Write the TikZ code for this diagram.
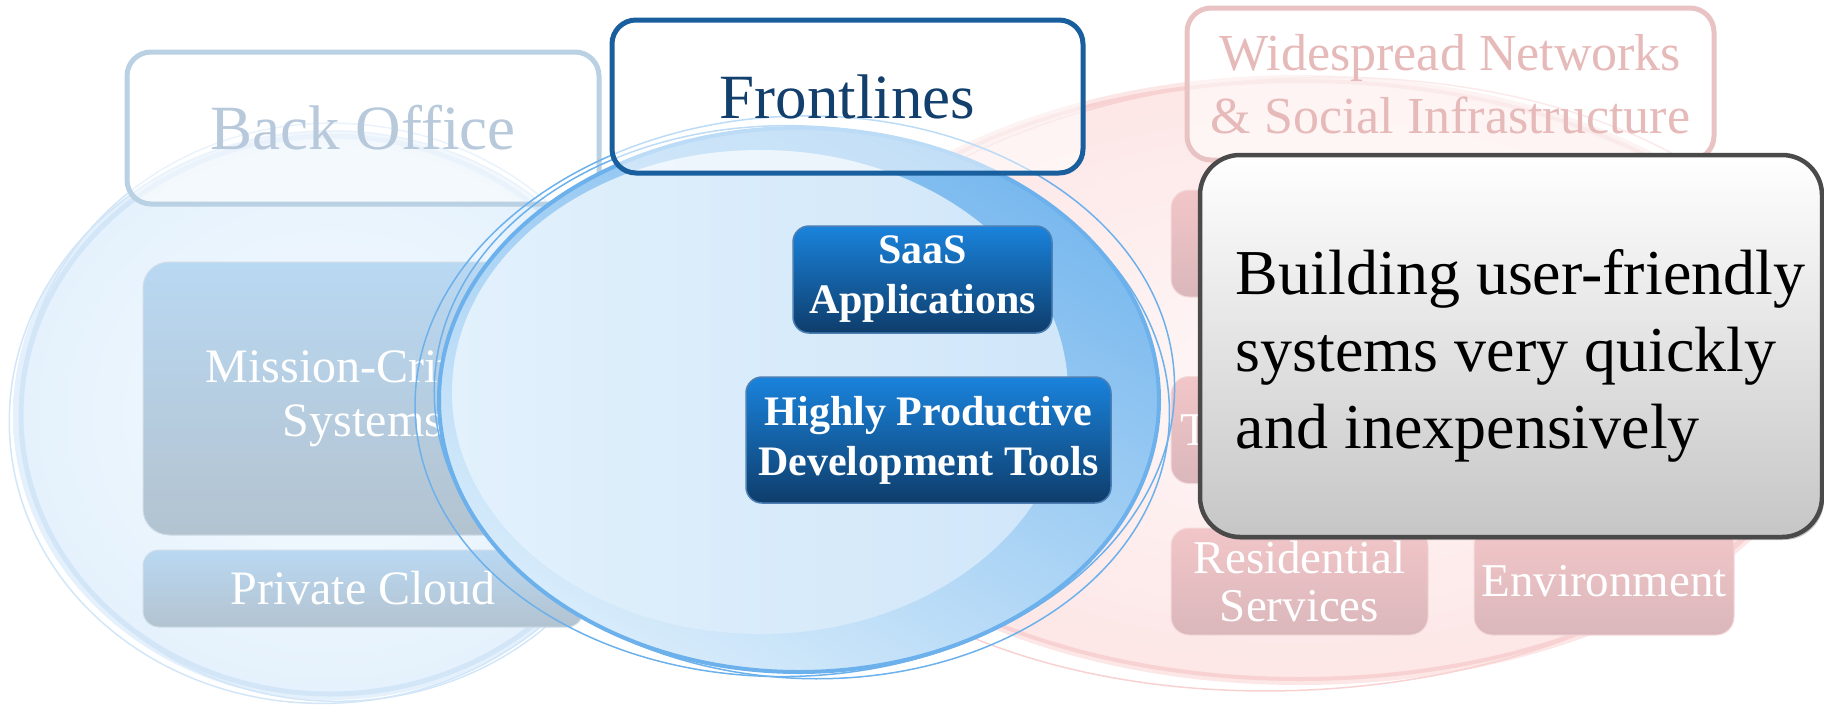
\documentclass[tikz,border=0pt]{standalone}
\usepackage{fontspec}
\setmainfont{Liberation Serif}
\usepackage{tikz}
\usetikzlibrary{shadows}
\definecolor{backin}{HTML}{F7FBFF}
\definecolor{backout}{HTML}{E4F1FC}
\definecolor{backring}{HTML}{D2E6F8}
\definecolor{backedge}{HTML}{BAD0E3}
\definecolor{backtext}{HTML}{B7C9DA}
\definecolor{systop}{HTML}{B9D8F2}
\definecolor{sysbot}{HTML}{B3C3D0}
\definecolor{sysedge}{HTML}{CFDDE9}
\definecolor{netin}{HTML}{FFF8F8}
\definecolor{netout}{HTML}{FDE6E6}
\definecolor{netring}{HTML}{F8D2D2}
\definecolor{netedge}{HTML}{E9C3C3}
\definecolor{nettext}{HTML}{E7BABA}
\definecolor{pinktop}{HTML}{F2C6C8}
\definecolor{pinkbot}{HTML}{DAB7BB}
\definecolor{pinkedge}{HTML}{F4D9DA}
\definecolor{frontdark}{HTML}{78B8EE}
\definecolor{frontmid}{HTML}{C4E3FA}
\definecolor{frontpale}{HTML}{D8ECFB}
\definecolor{frontinl}{HTML}{E2F1FC}
\definecolor{frontinr}{HTML}{D0E6F9}
\definecolor{frontring}{HTML}{6CB1EC}
\definecolor{frontedge}{HTML}{195F9E}
\definecolor{fronttext}{HTML}{123F6C}
\definecolor{tooltop}{HTML}{1A83DC}
\definecolor{toolbot}{HTML}{0E3D6B}
\definecolor{tooledge}{HTML}{4C80B4}
\definecolor{pitchedge}{HTML}{4A4A4A}
\definecolor{pitchlow}{HTML}{C6C6C6}
\tikzstyle{headbox} = [rounded corners=24pt, line width=5pt, fill=white, fill opacity=0.55, text opacity=1, inner sep=0pt, align=center]
\tikzstyle{sysbox} = [draw=sysedge, line width=1pt, top color=systop, bottom color=sysbot, text=white, inner sep=0pt, align=center, font=\fontsize{48}{54}\selectfont]
\tikzstyle{pinkbox} = [draw=pinkedge, line width=1pt, rounded corners=18pt, top color=pinktop, bottom color=pinkbot, text=white, inner sep=0pt, align=center, minimum width=257pt, minimum height=107pt, font=\fontsize{47}{48}\selectfont]
\tikzstyle{toolbox} = [draw=tooledge, line width=1.5pt, rounded corners=16pt, top color=tooltop, bottom color=toolbot, text=white, inner sep=0pt, align=center, font=\fontsize{42}{50}\selectfont\bfseries]
\tikzstyle{ring} = [line width=1.5pt]

\begin{document}
\begin{tikzpicture}[x=1pt,y=-1pt]
	\useasboundingbox (0,0) rectangle (1824,705);
	\shade[inner color=backin, outer color=backout] (330,415) ellipse [x radius=317, y radius=285];
	\draw[backring, line width=5pt] (330,415) ellipse [x radius=309, y radius=279];
	\draw[backring, ring, rotate around={4:(330,415)}] (327,417) ellipse [x radius=318, y radius=286];
	\draw[backring, ring, rotate around={-3:(330,415)}] (334,412) ellipse [x radius=313, y radius=289];
	\shade[inner color=netin, outer color=netout] (1300,380) ellipse [x radius=530, y radius=305];
	\draw[netring, line width=4pt] (1300,380) ellipse [x radius=524, y radius=299];
	\draw[netring, ring, rotate around={3:(1300,380)}] (1298,384) ellipse [x radius=532, y radius=306];
	\node[headbox, draw=backedge, text=backtext, minimum width=472pt, minimum height=152pt, font=\fontsize{63}{72}\selectfont] (back) at (363,128) {Back Office};
	\node[sysbox, rounded corners=26pt, minimum width=440pt, minimum height=273pt] (mission) at (363,398.5) {Mission-Critical\\Systems};
	\node[sysbox, rounded corners=16pt, minimum width=440pt, minimum height=77pt] (private) at (363,588.5) {Private Cloud};
	\node[headbox, draw=netedge, text=nettext, minimum width=527pt, minimum height=152pt, font=\fontsize{52}{63}\selectfont] (networks) at (1450.5,84) {Widespread Networks\\\& Social Infrastructure};
	\node[pinkbox] (pinka) at (1299.5,243.5) {};
	\node[pinkbox, text width=239pt, align=left] (pinkb) at (1299.5,430) {T};
	\node[pinkbox] (residential) at (1299.5,581.5) {Residential\\Services};
	\node[pinkbox, minimum width=260pt] (environment) at (1604,581.5) {Environment};
	\shade[top color=frontdark, middle color=frontmid, bottom color=frontpale, shading angle=-30] (799,400) ellipse [x radius=360, y radius=272];
	\shade[left color=frontinl, right color=frontinr] (760,392) ellipse [x radius=308, y radius=242];
	\draw[frontring, line width=4pt] (799,400) ellipse [x radius=360, y radius=272];
	\draw[frontring, ring, rotate around={3:(799,400)}] (795,396) ellipse [x radius=380, y radius=280];
	\draw[frontring, ring, rotate around={-4:(799,400)}] (802,402) ellipse [x radius=368, y radius=276];
	\node[headbox, draw=frontedge, text=fronttext, minimum width=471pt, minimum height=153pt, font=\fontsize{63}{72}\selectfont] (front) at (847.5,96.5) {Frontlines};
	\node[toolbox, minimum width=259pt, minimum height=107pt] (saas) at (922.5,279.5) {SaaS\\Applications};
	\node[toolbox, minimum width=365pt, minimum height=126pt] (devtools) at (928.5,440) {Highly Productive\\Development Tools};
	\node[draw=pitchedge, line width=4.5pt, rounded corners=40pt, top color=white, bottom color=pitchlow, minimum width=622pt, minimum height=382pt, drop shadow={shadow xshift=2pt, shadow yshift=-3pt, opacity=0.45}] (pitch) at (1511,346) {};
	\node[anchor=west, align=left, inner sep=0pt, font=\fontsize{64}{77}\selectfont] (pitchtext) at ([xshift=38pt, yshift=-10pt]pitch.west) {Building user-friendly\\systems very quickly\\and inexpensively};
\end{tikzpicture}
\end{document}
